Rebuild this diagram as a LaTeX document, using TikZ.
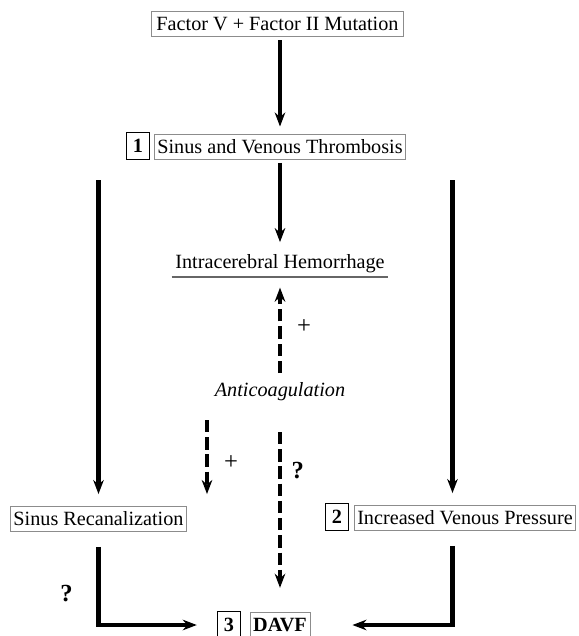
\documentclass[tikz,border=0pt]{standalone}
\usepackage{fontspec}
\setmainfont{Liberation Serif}
\usetikzlibrary{arrows.meta,positioning,calc}

\begin{document}
\begin{tikzpicture}[
    txt/.style={draw=black!45, line width=0.5pt, inner sep=1.5pt, minimum height=0.5cm, font=\fontsize{11.5}{13}\selectfont},
    num/.style={draw, line width=0.8pt, minimum width=0.46cm, minimum height=0.54cm, inner sep=1pt, font=\bfseries\fontsize{11.5}{13}\selectfont},
    arr/.style={-{Stealth[length=8pt, width=6pt]}, line width=2.7pt},
    darr/.style={arr, dash pattern=on 7pt off 2.8pt},
    lbl/.style={font=\fontsize{14}{16}\selectfont}
]
\useasboundingbox (0,0) rectangle (11.58,-12.72);

\node[txt, minimum width=5.04cm] (fac) at (5.55,-0.48) {Factor V + Factor II Mutation};
\node[num] (one) at (2.76,-2.92) {1};
\node[txt, minimum width=5.0cm] (sin) at (5.6,-2.93) {Sinus and Venous Thrombosis};
\node[font=\fontsize{11.5}{13}\selectfont, inner sep=2pt] (ich) at (5.6,-5.28) {Intracerebral Hemorrhage};
\node[font=\itshape\fontsize{11.5}{13}\selectfont] (anti) at (5.6,-7.84) {Anticoagulation};
\node[txt, minimum width=3.46cm] (rec) at (1.97,-10.38) {Sinus Recanalization};
\node[num] (two) at (6.74,-10.34) {2};
\node[txt, minimum width=4.4cm] (inc) at (9.3,-10.36) {Increased Venous Pressure};
\node[num] (three) at (4.58,-12.5) {3};
\node[txt, font=\bfseries\fontsize{11.5}{13}\selectfont, minimum width=1.2cm] (davf) at (5.6,-12.5) {DAVF};

\coordinate (dl) at (4.14,-8.4);
\coordinate (rt) at (9.05,-3.6);

\draw[black!60, line width=0.8pt] (ich.south west) -- (ich.south east);

\draw[arr, shorten <=2pt, shorten >=4pt] (fac.south -| sin) -- (sin);
\draw[arr, shorten <=2pt, shorten >=5pt] (sin) -- (ich);
\draw[arr, shorten <=0.42cm, shorten >=0.24cm] (rec |- sin.south) -- (rec.north);
\draw[arr, shorten >=0.24cm] (rt) -- (rt |- inc.north);

\draw[darr, shorten <=2pt, shorten >=6pt] (anti) -- node[lbl, right=5pt] {+} (ich);
\draw[darr, shorten >=0.24cm] (dl) -- node[lbl, right=5pt] {+} (dl |- rec.north);
\draw[darr, shorten <=0.24cm] (anti.south |- dl) -- node[lbl, right=2pt, pos=0.3, font=\bfseries\fontsize{14}{16}\selectfont] {?} ([yshift=0.46cm]three.north -| anti.south);

\draw[arr] ([yshift=-0.3cm]rec.south) |- node[lbl, pos=0.3, left=10pt, font=\bfseries\fontsize{14}{16}\selectfont] {?} ([xshift=-0.4cm]three.west);
\draw[arr] ([yshift=-0.3cm]inc.south -| rt) |- ([xshift=0.84cm]davf.east);
\end{tikzpicture}
\end{document}
